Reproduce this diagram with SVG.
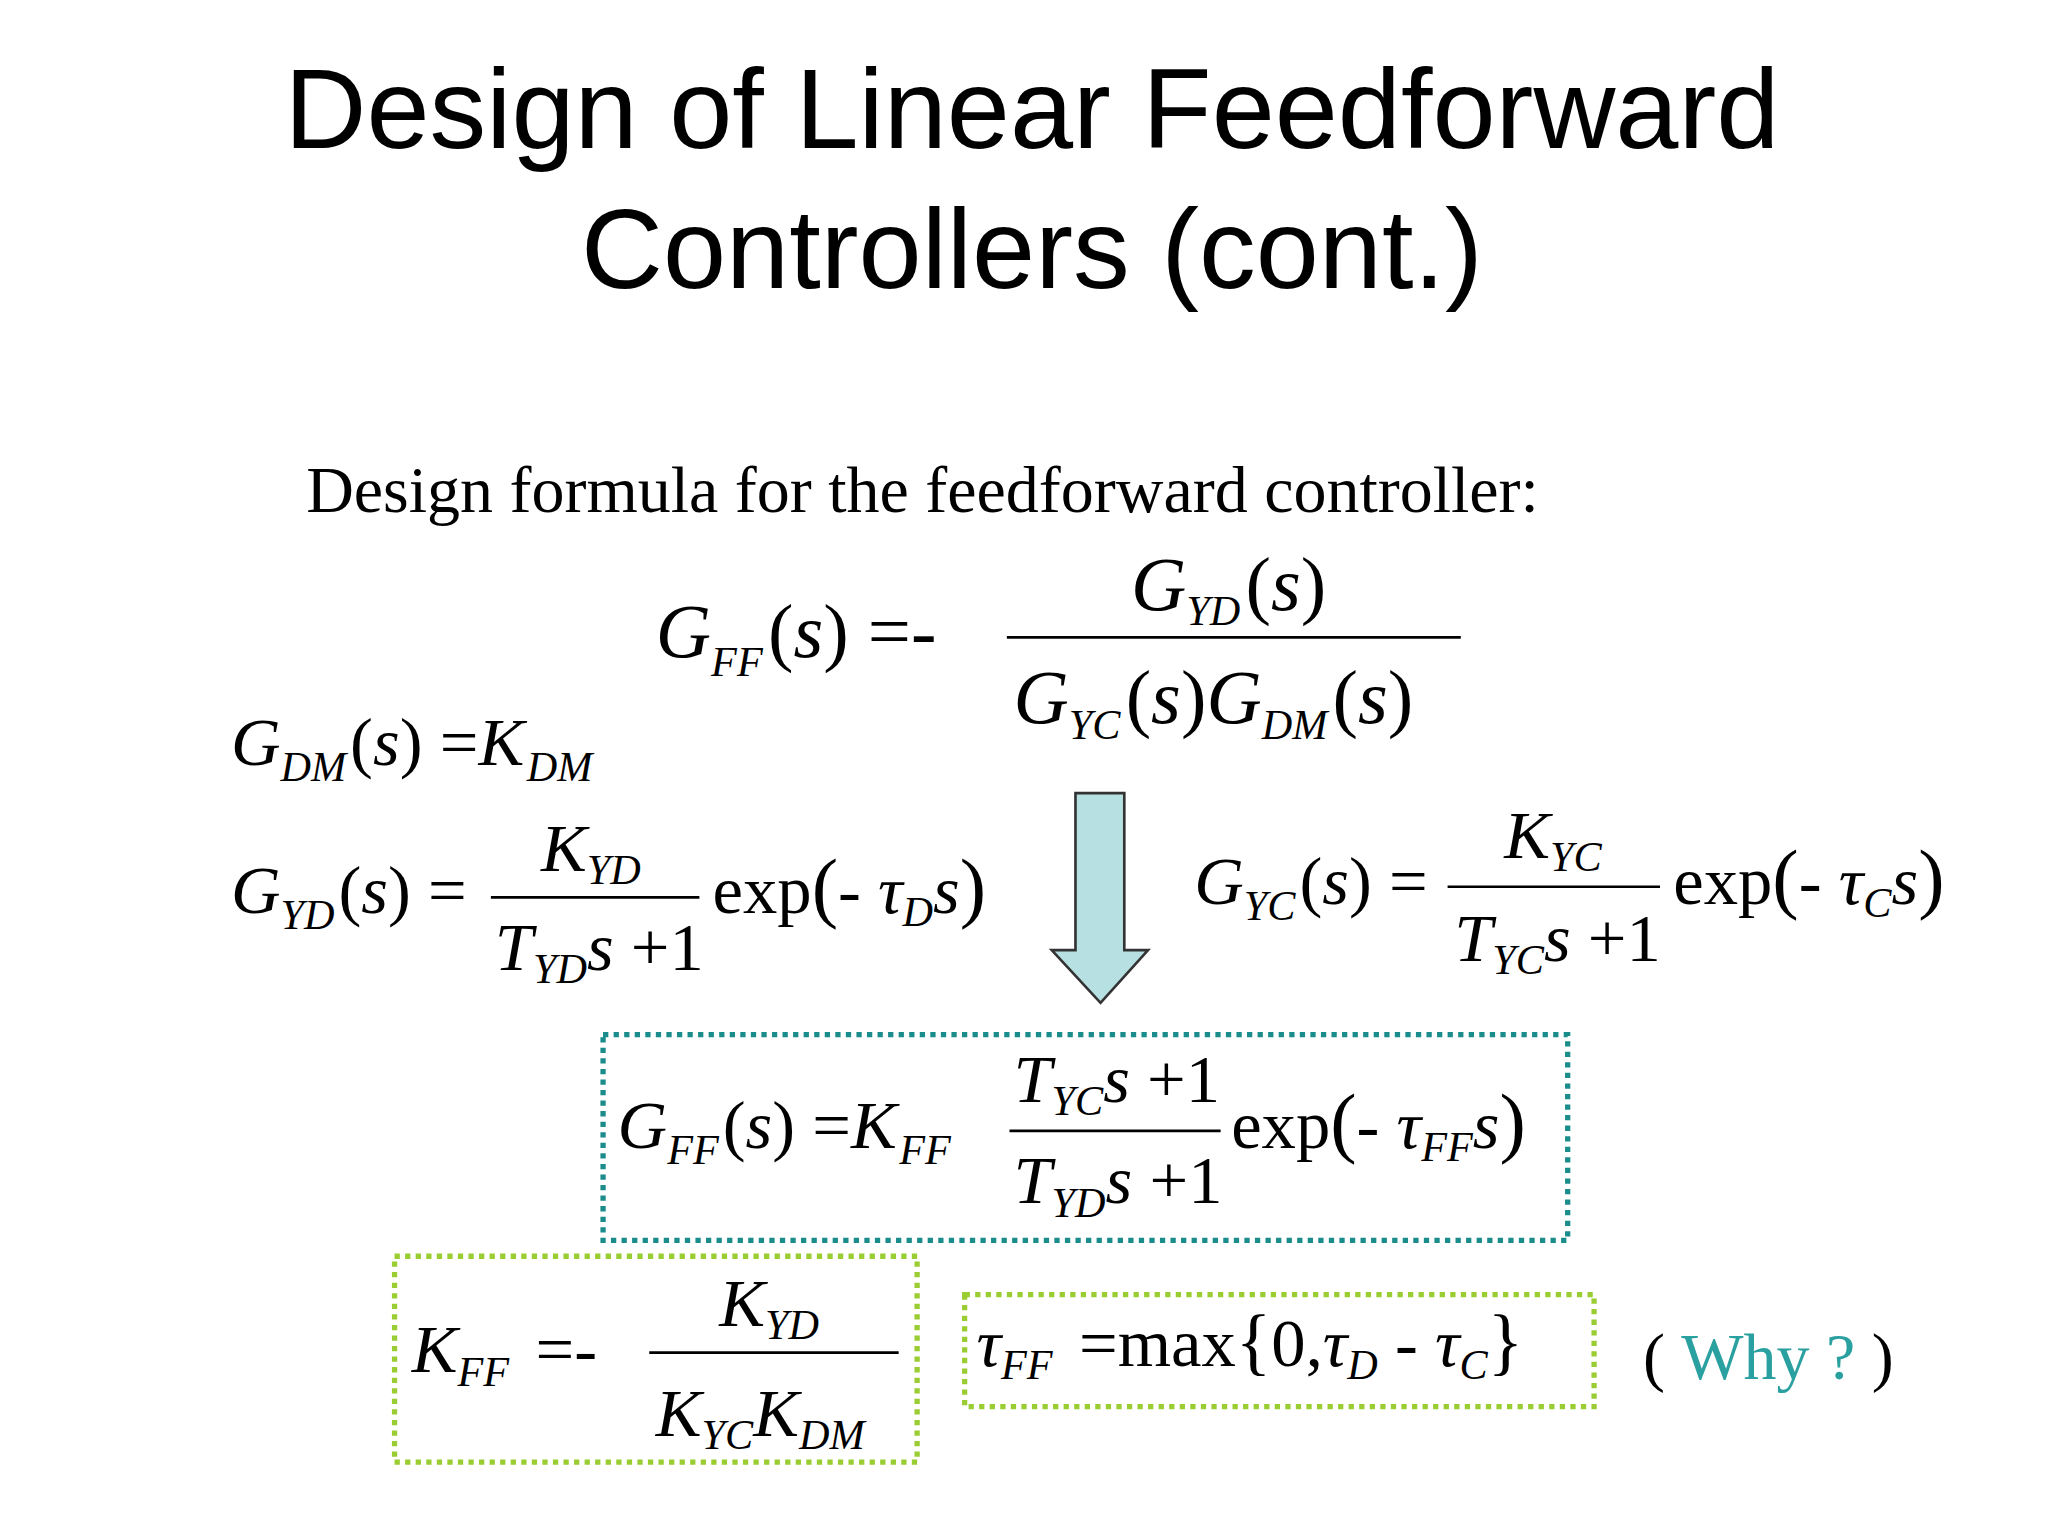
<svg xmlns="http://www.w3.org/2000/svg" width="2048" height="1536" viewBox="0 0 2048 1536">
<style>
.t{font-family:"Liberation Sans",Arial,sans-serif;font-size:86px;fill:#000;text-anchor:middle}
.m{font-family:"Liberation Serif","Times New Roman",serif;fill:#000}
.i{font-style:italic}
.b{font-size:58px}
.s{font-size:52px}
.sub{font-size:32px;font-style:italic}
.ln{stroke:#000;stroke-width:2}
</style>
<rect width="2048" height="1536" fill="#fff"/>
<g transform="scale(1.3196)">
<g id="title">
<text class="t" x="782" y="112">Design of Linear Feedforward</text>
<text class="t" x="782" y="218">Controllers (cont.)</text>
</g>
<text class="m" x="232" y="388" font-size="50">Design formula for the feedforward controller:</text>
<g id="eq-main" class="m b">
<text x="497" y="498"><tspan class="i">G</tspan><tspan class="sub" dy="14">FF</tspan><tspan dy="-14" dx="4">(</tspan><tspan class="i">s</tspan>) =-</text>
<line class="ln" x1="763" y1="483" x2="1107" y2="483"/>
<text x="857" y="462"><tspan class="i">G</tspan><tspan class="sub" dy="12">YD</tspan><tspan dy="-12" dx="4">(</tspan><tspan class="i">s</tspan>)</text>
<text x="768" y="548"><tspan class="i">G</tspan><tspan class="sub" dy="12">YC</tspan><tspan dy="-12" dx="4">(</tspan><tspan class="i">s</tspan>)<tspan class="i">G</tspan><tspan class="sub" dy="12">DM</tspan><tspan dy="-12" dx="4">(</tspan><tspan class="i">s</tspan>)</text>
</g>
<g id="eq-gdm" class="m s">
<text x="175" y="580"><tspan class="i">G</tspan><tspan class="sub" dy="12">DM</tspan><tspan dy="-12" dx="3">(</tspan><tspan class="i">s</tspan>) =<tspan class="i">K</tspan><tspan class="sub" dy="12" dx="2">DM</tspan></text>
</g>
<g id="eq-gyd" class="m s">
<text x="175" y="692"><tspan class="i">G</tspan><tspan class="sub" dy="12">YD</tspan><tspan dy="-12" dx="3">(</tspan><tspan class="i">s</tspan>) =</text>
<line class="ln" x1="372" y1="680" x2="530" y2="680"/>
<text x="410" y="660"><tspan class="i">K</tspan><tspan class="sub" dy="10">YD</tspan></text>
<text x="375" y="735"><tspan class="i">T</tspan><tspan class="sub" dy="10">YD</tspan><tspan class="i" dy="-10">s</tspan> +1</text>
<text x="540" y="692">exp<tspan font-size="60">(</tspan>- <tspan class="i">τ</tspan><tspan class="sub" dy="10">D</tspan><tspan class="i" dy="-10">s</tspan><tspan font-size="60">)</tspan></text>
</g>
<g id="arrow">
<path d="M815 601 H852 V720 H870 L834 760 L797 720 H815 Z" fill="#b7e0e3" stroke="#333" stroke-width="2"/>
</g>
<g id="eq-gyc" class="m s">
<text x="905" y="685"><tspan class="i">G</tspan><tspan class="sub" dy="12">YC</tspan><tspan dy="-12" dx="3">(</tspan><tspan class="i">s</tspan>) =</text>
<line class="ln" x1="1097" y1="672" x2="1258" y2="672"/>
<text x="1140" y="650"><tspan class="i">K</tspan><tspan class="sub" dy="10">YC</tspan></text>
<text x="1102" y="728"><tspan class="i">T</tspan><tspan class="sub" dy="10">YC</tspan><tspan class="i" dy="-10">s</tspan> +1</text>
<text x="1268" y="685">exp<tspan font-size="60">(</tspan>- <tspan class="i">τ</tspan><tspan class="sub" dy="10">C</tspan><tspan class="i" dy="-10">s</tspan><tspan font-size="60">)</tspan></text>
</g>
<g id="box-gff">
<rect x="457" y="784" width="731" height="156" fill="none" stroke="#1a8c8c" stroke-width="4" stroke-dasharray="4 4"/>
<g class="m s">
<text x="468" y="870"><tspan class="i">G</tspan><tspan class="sub" dy="12">FF</tspan><tspan dy="-12" dx="3">(</tspan><tspan class="i">s</tspan>) =<tspan class="i">K</tspan><tspan class="sub" dy="12" dx="2">FF</tspan></text>
<line class="ln" x1="765" y1="857" x2="925" y2="857"/>
<text x="768" y="835"><tspan class="i">T</tspan><tspan class="sub" dy="10">YC</tspan><tspan class="i" dy="-10">s</tspan> +1</text>
<text x="768" y="912"><tspan class="i">T</tspan><tspan class="sub" dy="10">YD</tspan><tspan class="i" dy="-10">s</tspan> +1</text>
<text x="933" y="870">exp<tspan font-size="60">(</tspan>- <tspan class="i">τ</tspan><tspan class="sub" dy="10">FF</tspan><tspan class="i" dy="-10">s</tspan><tspan font-size="60">)</tspan></text>
</g>
</g>
<g id="box-kff">
<rect x="299" y="952" width="396" height="156" fill="none" stroke="#9acd32" stroke-width="4" stroke-dasharray="4 4"/>
<g class="m s">
<text x="312" y="1040"><tspan class="i">K</tspan><tspan class="sub" dy="10">FF</tspan><tspan dy="-10" dx="20">=-</tspan></text>
<line class="ln" x1="492" y1="1025" x2="681" y2="1025"/>
<text x="545" y="1005"><tspan class="i">K</tspan><tspan class="sub" dy="10">YD</tspan></text>
<text x="497" y="1088"><tspan class="i">K</tspan><tspan class="sub" dy="10">YC</tspan><tspan class="i" dy="-10">K</tspan><tspan class="sub" dy="10">DM</tspan></text>
</g>
</g>
<g id="box-tff">
<rect x="731" y="981" width="477" height="85" fill="none" stroke="#9acd32" stroke-width="4" stroke-dasharray="4 4"/>
<text class="m s" x="740" y="1035"><tspan class="i">τ</tspan><tspan class="sub" dy="10">FF</tspan><tspan dy="-10" dx="20">=max</tspan><tspan font-size="56">{</tspan>0,<tspan class="i">τ</tspan><tspan class="sub" dy="10">D</tspan><tspan dy="-10"> - </tspan><tspan class="i">τ</tspan><tspan class="sub" dy="10">C</tspan><tspan dy="-10" font-size="56">}</tspan></text>
</g>
<text class="m" x="1245" y="1045" font-size="50">( <tspan fill="#2aa0a0">Why ?</tspan> )</text>
</g>
</svg>
